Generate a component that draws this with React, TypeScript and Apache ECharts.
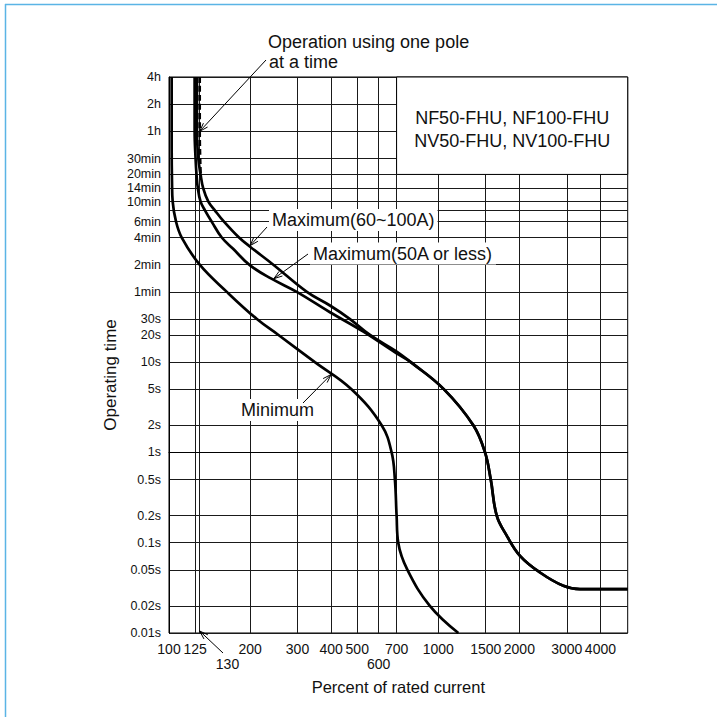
import React, { useEffect, useRef } from "react";
import * as echarts from "echarts";

// ---- axis ranges (percent of rated current, seconds) ----
const X_MIN = 100;
const X_MAX = 5050;
const Y_MIN = 0.01;
const Y_MAX = 14400;

// ---- x grid lines / labels ----
const xGridValues = [100, 125, 130, 200, 300, 400, 500, 600, 700, 1000, 1500, 2000, 3000, 4000];
const xLabelValues = [100, 125, 200, 300, 400, 500, 600, 700, 1000, 1500, 2000, 3000, 4000];
const xLabelTexts = ["100", "125", "200", "300", "400", "500", "\n600", "700", "1000", "1500", "2000", "3000", "4000"];

// ---- y grid lines / labels (seconds) ----
const yGridValues = [14400, 7200, 3600, 1800, 1200, 840, 600, 480, 360, 240, 120, 60, 30, 20, 10, 5, 2, 1, 0.5, 0.2, 0.1, 0.05, 0.02, 0.01];
const yLabelValues = [14400, 7200, 3600, 1800, 1200, 840, 600, 360, 240, 120, 60, 30, 20, 10, 5, 2, 1, 0.5, 0.2, 0.1, 0.05, 0.02, 0.01];
const yLabelTexts = ["4h", "2h", "1h", "30min", "20min", "14min", "10min", "6min", "4min", "2min", "1min", "30s", "20s", "10s", "5s", "2s", "1s", "0.5s", "0.2s", "0.1s", "0.05s", "0.02s", "0.01s"];

// ---- curves ----
const minPct = [102.3, 102.3, 102.6, 103.2, 106.2, 111.5, 130, 164, 212, 255, 348, 476, 616, 671, 690, 700, 710, 768, 930, 1187];
const minSec = [14400, 2400, 1000, 600, 360, 240, 120, 60, 30, 20, 10, 5, 2, 1, 0.5, 0.2, 0.1, 0.05, 0.02, 0.01];

const max50Pct = [124.5, 124.5, 125.5, 126.5, 128, 131, 136, 144, 157, 173, 200, 240, 298, 396, 525, 700];
const max50Sec = [14400, 3600, 1800, 1200, 840, 600, 480, 360, 240, 180, 118, 84, 60, 35.7, 21.9, 12.5];

const max100Pct = [127, 127, 128.5, 131, 134, 140, 148, 160, 182, 200, 244, 325, 396, 470, 557.7, 700.6];
const max100Sec = [14400, 3600, 1800, 1200, 840, 600, 480, 360, 240, 190, 120, 60, 42.4, 30, 20, 13.1];

// common tail of both maximum curves after they merge
const tailPct = [790, 1050, 1349, 1491, 1566, 1648, 1795, 2011, 2386, 2913, 3357, 5050];
const tailSec = [10, 5, 2, 1, 0.5, 0.2, 0.12, 0.0716, 0.0468, 0.0333, 0.0306, 0.0306];

const onePolePct = [130, 130, 130.5, 131];
const onePoleSec = [14400, 3600, 1800, 1200];

const L = Math.log10;
const toData = (p: number[], s: number[]) => p.map((v, i) => [L(v), L(s[i])]);
const FONT = '"Liberation Sans", Arial, Helvetica, sans-serif';
const INK = "#111";

function findLabel(v: number, vals: number[], texts: string[]) {
  for (let i = 0; i < vals.length; i++) if (Math.abs(L(vals[i]) - v) < 1e-6) return texts[i];
  return "";
}

function arrow(tail: number[], tip: number[]) {
  const dx = tail[0] - tip[0];
  const dy = tail[1] - tip[1];
  const len = Math.hypot(dx, dy);
  const ux = dx / len;
  const uy = dy / len;
  const h = 9;
  const a = 0.32;
  const rot = (ang: number) => [
    tip[0] + h * (ux * Math.cos(ang) - uy * Math.sin(ang)),
    tip[1] + h * (ux * Math.sin(ang) + uy * Math.cos(ang)),
  ];
  return [
    { type: "line", z: 20, shape: { x1: tail[0], y1: tail[1], x2: tip[0], y2: tip[1] }, style: { stroke: "#000", lineWidth: 1 } },
    { type: "polyline", z: 20, shape: { points: [rot(a), tip, rot(-a)] }, style: { stroke: "#000", lineWidth: 1, fill: null } },
  ];
}

function label(text: string, x: number, y: number, size: number, align = "left", bg = true) {
  return {
    type: "text",
    z: 15,
    x,
    y,
    style: {
      text,
      fontSize: size,
      fontFamily: FONT,
      fill: INK,
      align,
      verticalAlign: "middle",
      backgroundColor: bg ? "#fff" : undefined,
      padding: bg ? [2, 3] : 0,
    },
  };
}

export default function App() {
  const ref = useRef<HTMLDivElement>(null);

  useEffect(() => {
    if (!ref.current) return;
    const chart = echarts.init(ref.current, null, { renderer: "svg" });
    const curveStyle = { color: "#000", width: 2.7 };
    const SM = 0.4;

    chart.setOption({
      animation: false,
      backgroundColor: "#fff",
      grid: {
        left: 169,
        right: 717 - 627.7,
        top: 77,
        bottom: 717 - 633,
        show: true,
        borderColor: "#000",
        borderWidth: 1,
        backgroundColor: "transparent",
        containLabel: false,
        outerBoundsMode: "none",
      },
      xAxis: {
        type: "value",
        min: L(X_MIN),
        max: L(X_MAX),
        name: "Percent of rated current",
        nameLocation: "middle",
        nameGap: 45,
        nameTextStyle: { fontSize: 16.5, fontFamily: FONT, color: INK },
        axisLine: { show: true, lineStyle: { color: "#000", width: 1 } },
        axisTick: { show: false, customValues: xGridValues.map(L) },
        axisLabel: {
          customValues: xLabelValues.map(L),
          formatter: (v: number) => findLabel(v, xLabelValues, xLabelTexts),
          fontSize: 14,
          lineHeight: 15,
          fontFamily: FONT,
          color: INK,
          margin: 8,
        },
        splitLine: { show: true, lineStyle: { color: "#1a1a1a", width: 1 } },
      },
      yAxis: {
        type: "value",
        min: L(Y_MIN),
        max: L(Y_MAX),
        axisLine: { show: true, lineStyle: { color: "#000", width: 1 } },
        axisTick: { show: false, customValues: yGridValues.map(L) },
        axisLabel: {
          customValues: yLabelValues.map(L),
          formatter: (v: number) => findLabel(v, yLabelValues, yLabelTexts),
          fontSize: 12.5,
          lineHeight: 11,
          fontFamily: FONT,
          color: INK,
          margin: 8,
        },
        splitLine: { show: true, lineStyle: { color: "#1a1a1a", width: 1 } },
      },
      series: [
        { name: "Minimum", type: "line", data: toData(minPct, minSec), smooth: SM, symbol: "none", lineStyle: curveStyle, z: 3 },
        { name: "Maximum(50A or less)", type: "line", data: toData(max50Pct.concat(tailPct), max50Sec.concat(tailSec)), smooth: SM, symbol: "none", lineStyle: curveStyle, z: 3 },
        { name: "Maximum(60~100A)", type: "line", data: toData(max100Pct.concat(tailPct), max100Sec.concat(tailSec)), smooth: SM, symbol: "none", lineStyle: curveStyle, z: 3 },
        { name: "Operation using one pole at a time", type: "line", data: toData(onePolePct, onePoleSec), smooth: SM, symbol: "none", lineStyle: { color: "#000", width: 2.7, type: [6, 3] }, z: 3 },
      ],
    });

    const P = (p: number, s: number) => chart.convertToPixel({ gridIndex: 0 }, [L(p), L(s)]) as number[];
    const b1 = P(700, Y_MAX);
    const b2 = P(X_MAX, 1200);
    const bx = b1[0];
    const bw = b2[0] - b1[0];
    const tip130 = P(130, Y_MIN);

    const graphic: any[] = [
      // light blue frame (top and left edges)
      { type: "line", z: 1, shape: { x1: 5, y1: 4.5, x2: 717, y2: 4.5 }, style: { stroke: "#5ab4e5", lineWidth: 1.5 } },
      { type: "line", z: 1, shape: { x1: 5.5, y1: 4, x2: 5.5, y2: 717 }, style: { stroke: "#5ab4e5", lineWidth: 1.5 } },
      // model box
      { type: "rect", z: 10, shape: { x: bx, y: b1[1], width: bw, height: b2[1] - b1[1] }, style: { fill: "#fff", stroke: "#000", lineWidth: 1 } },
      label("NF50-FHU, NF100-FHU", bx + bw / 2, b1[1] + 41, 18, "center", false),
      label("NV50-FHU, NV100-FHU", bx + bw / 2, b1[1] + 64, 18, "center", false),
      // annotations
      label("Operation using one pole", 268, 42, 18, "left", false),
      label("at a time", 269, 61.5, 18, "left", false),
      ...arrow([266, 60], P(130, 3600)),
      label("Maximum(60~100A)", 269, 220, 18),
      ...arrow([267, 227], P(200, 195)),
      label("Maximum(50A or less)", 310, 253.5, 18),
      ...arrow([308, 254], P(245, 84)),
      label("Minimum", 277.5, 410, 18, "center"),
      ...arrow([303, 403], P(400, 7.3)),
      label("130", 227.5, 663.5, 14, "center", false),
      ...arrow([223, 653], [tip130[0], tip130[1] - 2]),
      // y axis title
      {
        type: "text",
        z: 15,
        x: 110,
        y: 375,
        rotation: Math.PI / 2,
        style: { text: "Operating time", fontSize: 17, fontFamily: FONT, fill: INK, align: "center", verticalAlign: "middle" },
      },
    ];
    chart.setOption({ graphic });

    return () => chart.dispose();
  }, []);

  return <div ref={ref} style={{ position: "fixed", left: 0, top: 0, width: 717, height: 717 }} />;
}
